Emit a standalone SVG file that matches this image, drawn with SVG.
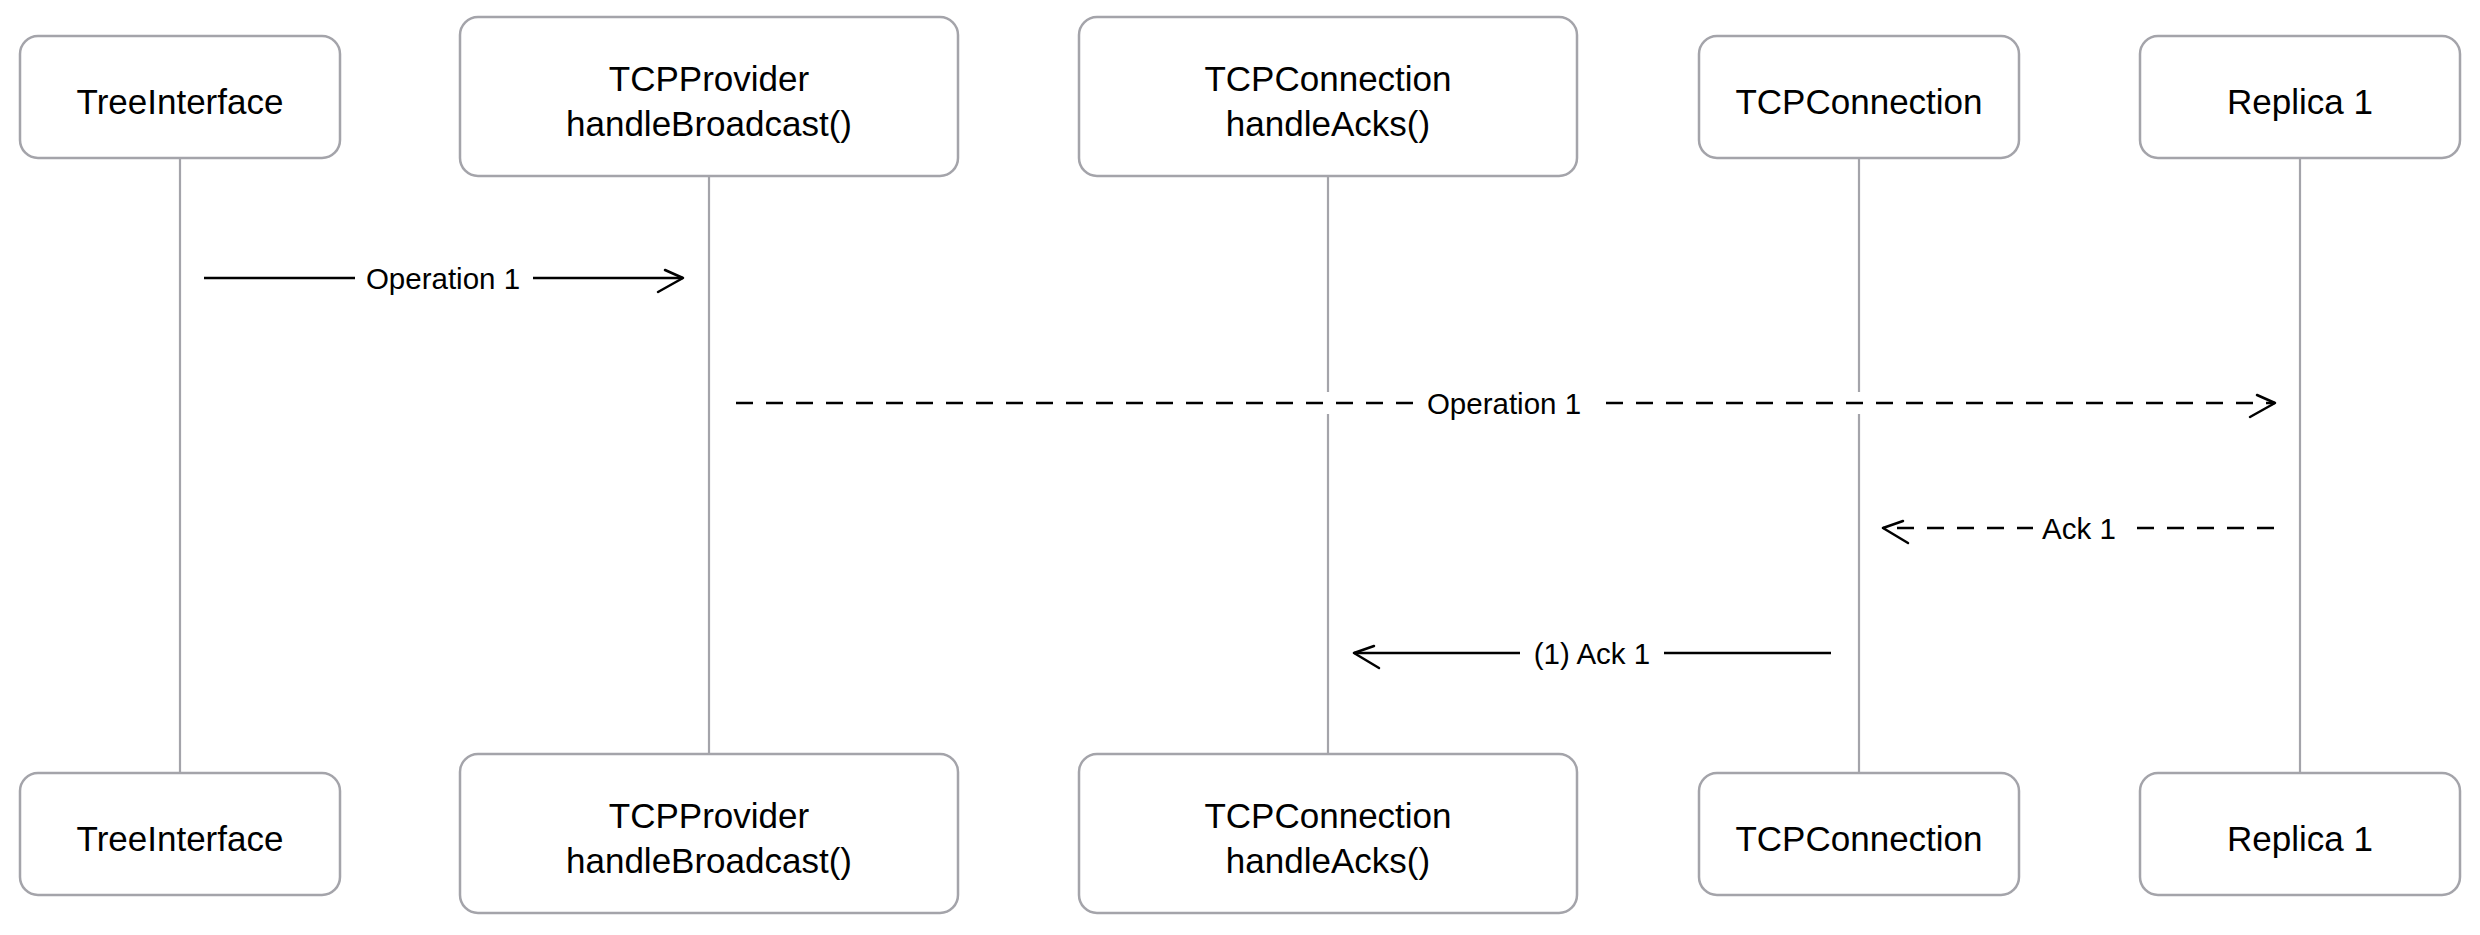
<svg xmlns="http://www.w3.org/2000/svg" width="2480" height="935" viewBox="0 0 2480 935">
<defs>
<style>
.box{fill:#ffffff;stroke:#a4a4aa;stroke-width:2.5}
.life{stroke:#a4a4aa;stroke-width:2.2;fill:none}
.lbl{font-family:"Liberation Sans",Arial,sans-serif;font-size:35px;fill:#000;text-anchor:middle}
.msg{font-family:"Liberation Sans",Arial,sans-serif;font-size:29.5px;fill:#000;text-anchor:middle}
.arr{stroke:#000;stroke-width:2.5;fill:none}
.dash{stroke-dasharray:17 13}
.halo{stroke:#fff;stroke-width:22;fill:none}
.bg{fill:#fff}
</style>
<marker id="headR" markerUnits="userSpaceOnUse" orient="auto" refX="0" refY="0" markerWidth="40" markerHeight="40" overflow="visible">
<path d="M-18,-8 L0,0 L-25,14" fill="none" stroke="#000" stroke-width="2.5" stroke-linecap="round" stroke-linejoin="round"/>
</marker>
<marker id="headL" markerUnits="userSpaceOnUse" orient="auto" refX="0" refY="0" markerWidth="40" markerHeight="40" overflow="visible">
<path d="M-20,7 L0,0 L-25,-15" fill="none" stroke="#000" stroke-width="2.5" stroke-linecap="round" stroke-linejoin="round"/>
</marker>
</defs>
<rect x="0" y="0" width="2480" height="935" fill="#ffffff"/>

<g id="lifelines">
<line class="life" x1="180" y1="158" x2="180" y2="773"/>
<line class="life" x1="709" y1="176" x2="709" y2="754"/>
<line class="life" x1="1328" y1="176" x2="1328" y2="754"/>
<line class="life" x1="1859" y1="158" x2="1859" y2="773"/>
<line class="life" x1="2300" y1="158" x2="2300" y2="773"/>
</g>

<g id="node-treeinterface-top">
<rect class="box" x="20" y="36" width="320" height="122" rx="18"/>
<text class="lbl" x="180" y="114">TreeInterface</text>
</g>
<g id="node-tcpprovider-top">
<rect class="box" x="460" y="17" width="498" height="159" rx="18"/>
<text class="lbl" x="709" y="91">TCPProvider</text>
<text class="lbl" x="709" y="136">handleBroadcast()</text>
</g>
<g id="node-tcpconnection-acks-top">
<rect class="box" x="1079" y="17" width="498" height="159" rx="18"/>
<text class="lbl" x="1328" y="91">TCPConnection</text>
<text class="lbl" x="1328" y="136">handleAcks()</text>
</g>
<g id="node-tcpconnection-top">
<rect class="box" x="1699" y="36" width="320" height="122" rx="18"/>
<text class="lbl" x="1859" y="114">TCPConnection</text>
</g>
<g id="node-replica-top">
<rect class="box" x="2140" y="36" width="320" height="122" rx="18"/>
<text class="lbl" x="2300" y="114">Replica 1</text>
</g>

<g id="node-treeinterface-bottom">
<rect class="box" x="20" y="773" width="320" height="122" rx="18"/>
<text class="lbl" x="180" y="851">TreeInterface</text>
</g>
<g id="node-tcpprovider-bottom">
<rect class="box" x="460" y="754" width="498" height="159" rx="18"/>
<text class="lbl" x="709" y="828">TCPProvider</text>
<text class="lbl" x="709" y="873">handleBroadcast()</text>
</g>
<g id="node-tcpconnection-acks-bottom">
<rect class="box" x="1079" y="754" width="498" height="159" rx="18"/>
<text class="lbl" x="1328" y="828">TCPConnection</text>
<text class="lbl" x="1328" y="873">handleAcks()</text>
</g>
<g id="node-tcpconnection-bottom">
<rect class="box" x="1699" y="773" width="320" height="122" rx="18"/>
<text class="lbl" x="1859" y="851">TCPConnection</text>
</g>
<g id="node-replica-bottom">
<rect class="box" x="2140" y="773" width="320" height="122" rx="18"/>
<text class="lbl" x="2300" y="851">Replica 1</text>
</g>

<g id="connectors">
<line class="arr" x1="204" y1="278" x2="683" y2="278" marker-end="url(#headR)"/>
<rect class="bg" x="355" y="262" width="178" height="32"/>
<text class="msg" x="443" y="288.5">Operation 1</text>

<line class="halo" x1="736" y1="403" x2="2270" y2="403"/>
<line class="arr dash" x1="736" y1="403" x2="2275" y2="403" marker-end="url(#headR)"/>
<rect class="bg" x="1415" y="387" width="178" height="32"/>
<text class="msg" x="1504" y="413.5">Operation 1</text>

<line class="arr dash" x1="2274" y1="528" x2="1883" y2="528" marker-end="url(#headL)"/>
<rect class="bg" x="2033" y="512" width="92" height="32"/>
<text class="msg" x="2079" y="538.5">Ack 1</text>

<line class="arr" x1="1831" y1="653" x2="1354" y2="653" marker-end="url(#headL)"/>
<rect class="bg" x="1520" y="637" width="144" height="32"/>
<text class="msg" x="1592" y="663.5">(1) Ack 1</text>
</g>
</svg>
